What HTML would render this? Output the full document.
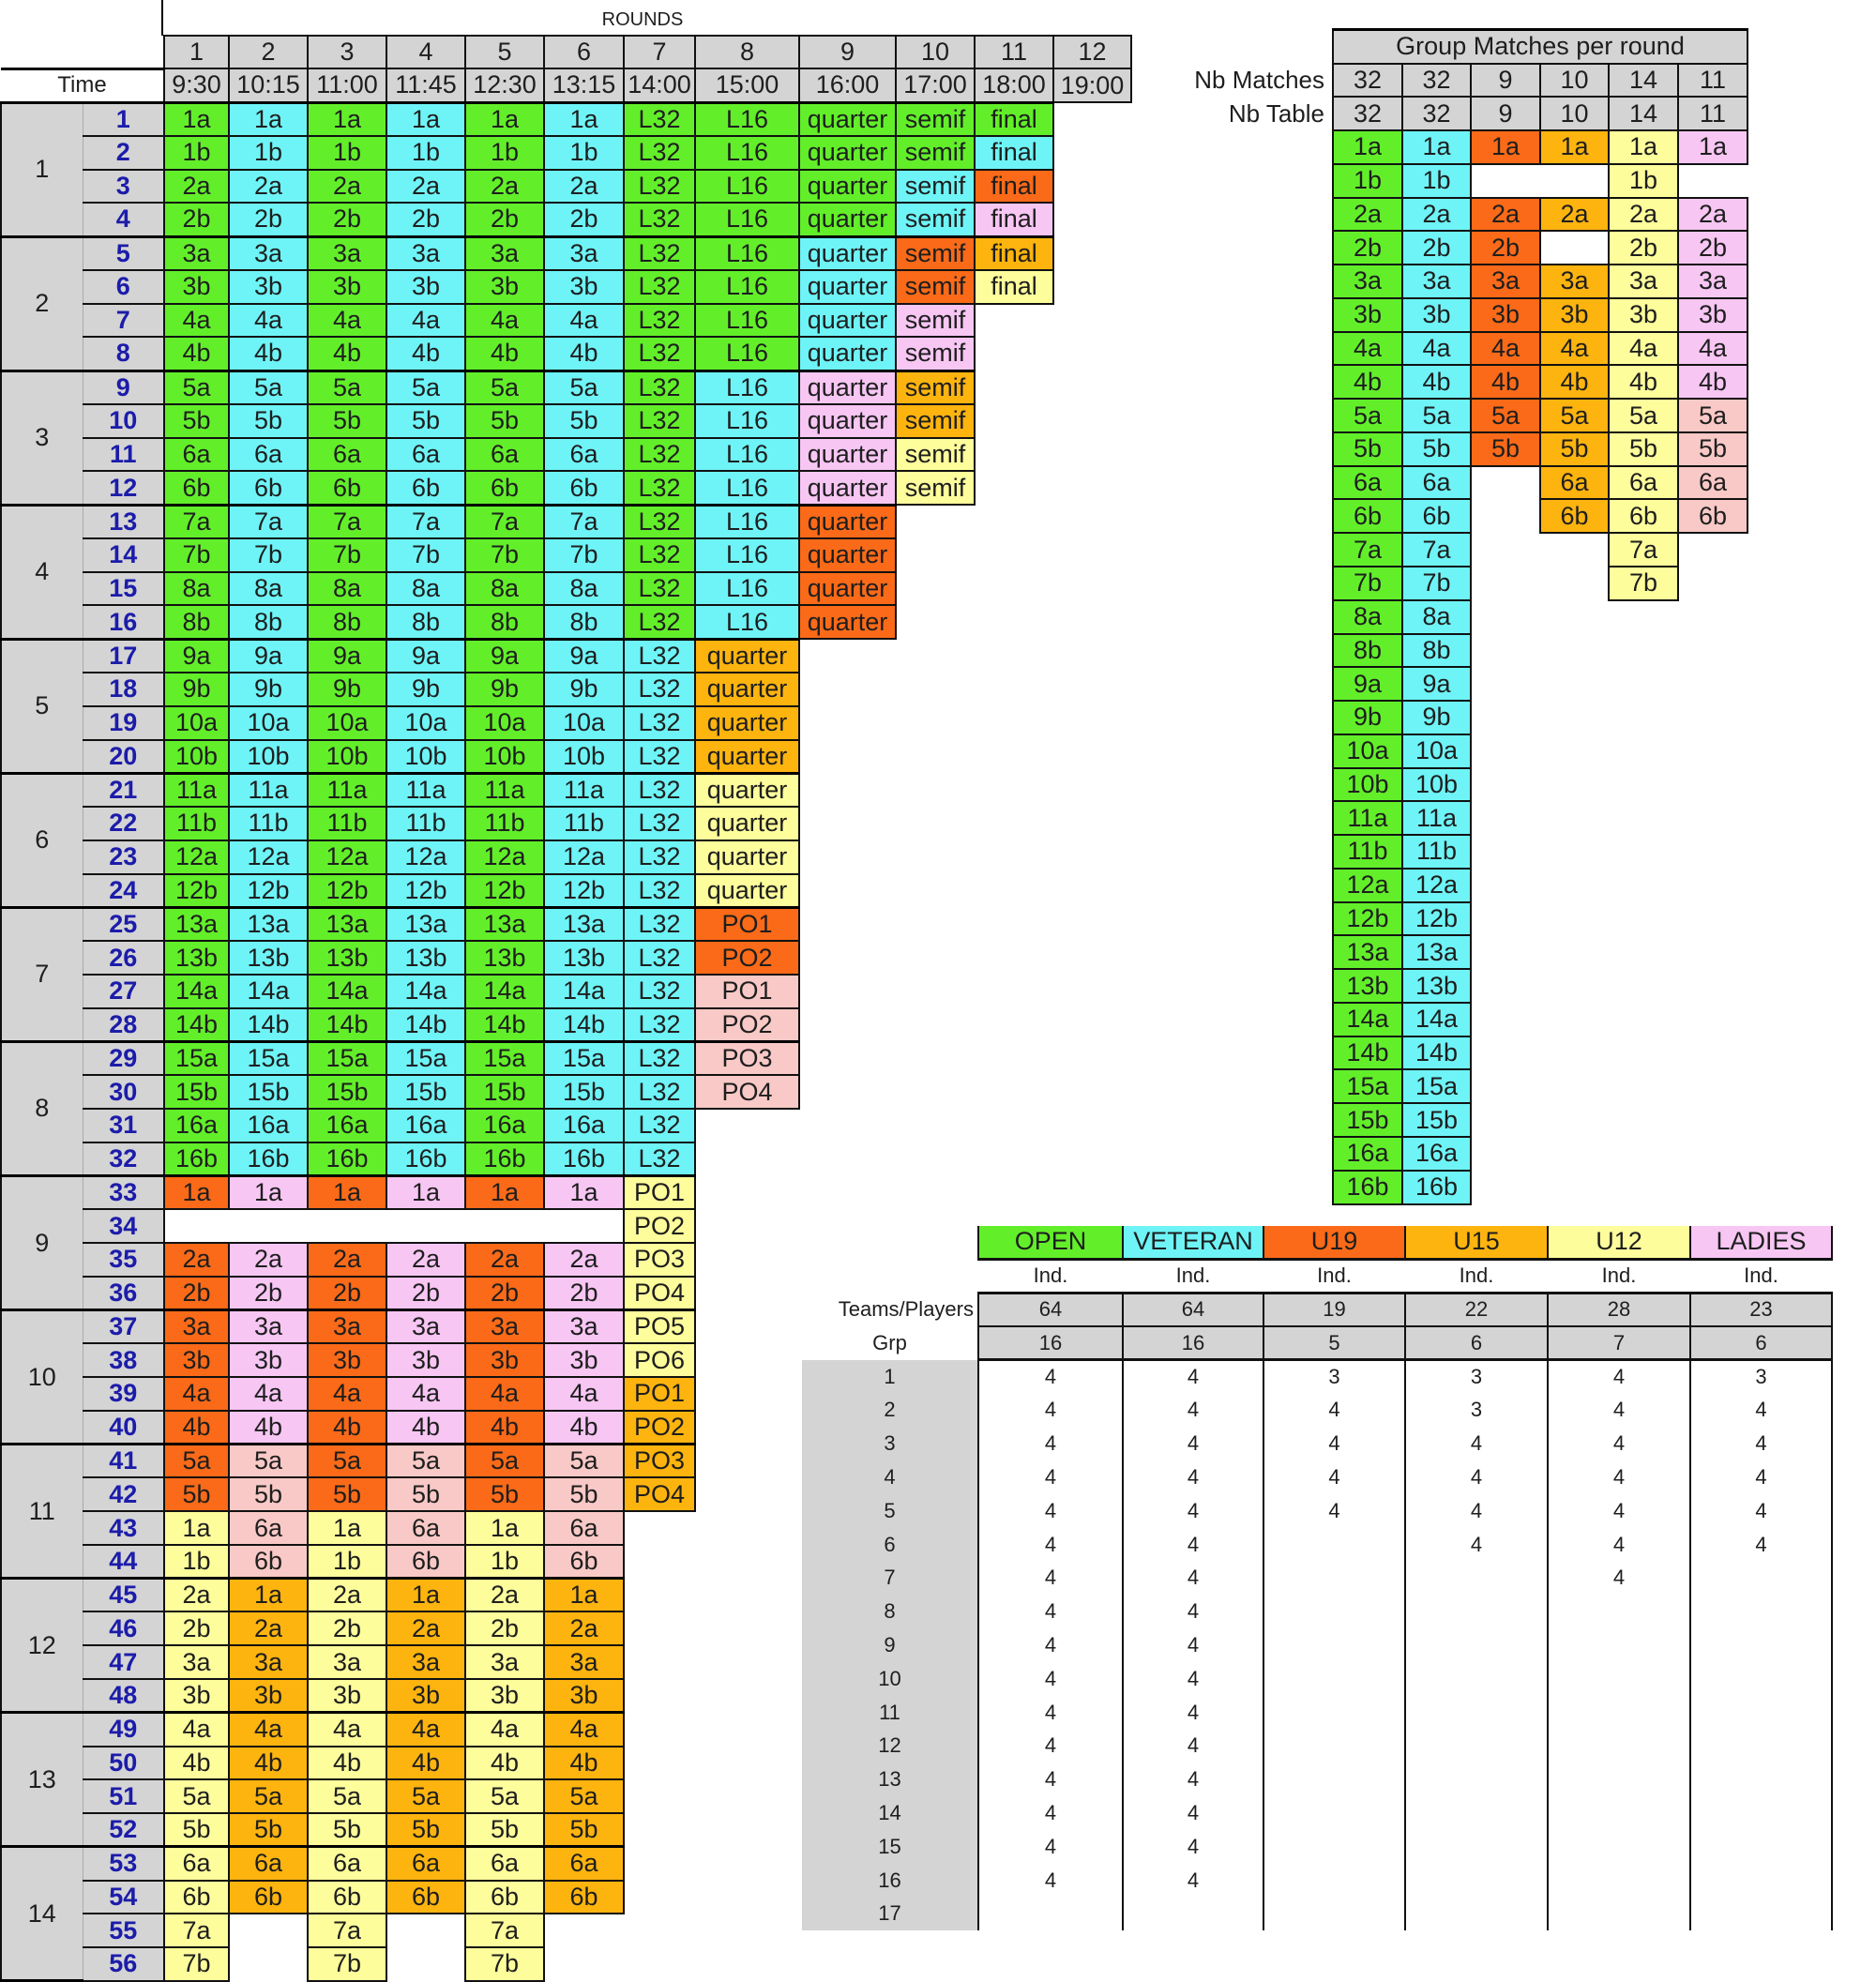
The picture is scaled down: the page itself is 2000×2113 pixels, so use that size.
<!DOCTYPE html>
<html><head><meta charset="utf-8"><style>
body{margin:0;width:2000px;height:2111px;background:#fff;position:relative;overflow:hidden;font-family:"Liberation Sans",Arial,sans-serif;color:#1e1e1e}
table{border-collapse:collapse;table-layout:fixed;position:absolute}
td{padding:0;text-align:center;vertical-align:middle;border:2px solid #111;font-size:27px;white-space:nowrap;overflow:hidden;line-height:1}
.g{background:#62ef2a}.c{background:#6ef4f7}.r{background:#fa6a18}.o{background:#fdb40f}.y{background:#fdfd9c}.p{background:#f7c6f3}.s{background:#f8c9c6}.h{background:#d4d4d4}
.L tr.d{height:35.78px}
.L tr.t td{border-top:3px solid #000}
td.n,.L tr.t td.n{border:none;background:#fff}
td.b{color:#1c1caa;font-weight:bold;background:#d4d4d4;border-left:1px solid #aaa}
td.gr{background:#d4d4d4;border-top:3px solid #000;border-bottom:3px solid #000;border-right:1px solid #aaa}
.R tr{height:35.78px}
.B td{font-size:22px}
.B tr{height:35.8px}
.B td.v{border:none;border-left:2px solid #111;border-right:2px solid #111}
.B td.lb{border:none;background:#d4d4d4}
</style></head><body>
<div style="position:absolute;left:172px;top:0;width:2px;height:38px;background:#000"></div>
<div style="position:absolute;left:600px;top:10px;width:170px;text-align:center;font-size:20px">ROUNDS</div>
<table class="L" style="left:0;top:37px;width:1205px">
<colgroup><col style="width:87px"><col style="width:87px"><col style="width:69px"><col style="width:84px"><col style="width:84px"><col style="width:84px"><col style="width:84px"><col style="width:85px"><col style="width:76px"><col style="width:111px"><col style="width:103px"><col style="width:84px"><col style="width:84px"><col style="width:83px"></colgroup>
<tr style="height:35px"><td class="n" colspan="2"></td><td class="h">1</td><td class="h">2</td><td class="h">3</td><td class="h">4</td><td class="h">5</td><td class="h">6</td><td class="h">7</td><td class="h">8</td><td class="h">9</td><td class="h">10</td><td class="h">11</td><td class="h">12</td></tr>
<tr style="height:36px"><td colspan="2" style="border-left:none;border-top:3px solid #000;border-bottom:3px solid #000;font-size:24px">Time</td><td class="h">9:30</td><td class="h">10:15</td><td class="h">11:00</td><td class="h">11:45</td><td class="h">12:30</td><td class="h">13:15</td><td class="h">14:00</td><td class="h">15:00</td><td class="h">16:00</td><td class="h">17:00</td><td class="h">18:00</td><td class="h">19:00</td></tr>
<tr class="d t"><td class="gr" rowspan="4">1</td><td class="b">1</td><td class="g">1a</td><td class="c">1a</td><td class="g">1a</td><td class="c">1a</td><td class="g">1a</td><td class="c">1a</td><td class="g">L32</td><td class="g">L16</td><td class="g">quarter</td><td class="g">semif</td><td class="g">final</td><td class="n"></td></tr>
<tr class="d"><td class="b">2</td><td class="g">1b</td><td class="c">1b</td><td class="g">1b</td><td class="c">1b</td><td class="g">1b</td><td class="c">1b</td><td class="g">L32</td><td class="g">L16</td><td class="g">quarter</td><td class="g">semif</td><td class="c">final</td><td class="n"></td></tr>
<tr class="d"><td class="b">3</td><td class="g">2a</td><td class="c">2a</td><td class="g">2a</td><td class="c">2a</td><td class="g">2a</td><td class="c">2a</td><td class="g">L32</td><td class="g">L16</td><td class="g">quarter</td><td class="c">semif</td><td class="r">final</td><td class="n"></td></tr>
<tr class="d"><td class="b">4</td><td class="g">2b</td><td class="c">2b</td><td class="g">2b</td><td class="c">2b</td><td class="g">2b</td><td class="c">2b</td><td class="g">L32</td><td class="g">L16</td><td class="g">quarter</td><td class="c">semif</td><td class="p">final</td><td class="n"></td></tr>
<tr class="d t"><td class="gr" rowspan="4">2</td><td class="b">5</td><td class="g">3a</td><td class="c">3a</td><td class="g">3a</td><td class="c">3a</td><td class="g">3a</td><td class="c">3a</td><td class="g">L32</td><td class="g">L16</td><td class="c">quarter</td><td class="r">semif</td><td class="o">final</td><td class="n"></td></tr>
<tr class="d"><td class="b">6</td><td class="g">3b</td><td class="c">3b</td><td class="g">3b</td><td class="c">3b</td><td class="g">3b</td><td class="c">3b</td><td class="g">L32</td><td class="g">L16</td><td class="c">quarter</td><td class="r">semif</td><td class="y">final</td><td class="n"></td></tr>
<tr class="d"><td class="b">7</td><td class="g">4a</td><td class="c">4a</td><td class="g">4a</td><td class="c">4a</td><td class="g">4a</td><td class="c">4a</td><td class="g">L32</td><td class="g">L16</td><td class="c">quarter</td><td class="p">semif</td><td class="n" colspan="2"></td></tr>
<tr class="d"><td class="b">8</td><td class="g">4b</td><td class="c">4b</td><td class="g">4b</td><td class="c">4b</td><td class="g">4b</td><td class="c">4b</td><td class="g">L32</td><td class="g">L16</td><td class="c">quarter</td><td class="p">semif</td><td class="n" colspan="2"></td></tr>
<tr class="d t"><td class="gr" rowspan="4">3</td><td class="b">9</td><td class="g">5a</td><td class="c">5a</td><td class="g">5a</td><td class="c">5a</td><td class="g">5a</td><td class="c">5a</td><td class="g">L32</td><td class="c">L16</td><td class="p">quarter</td><td class="o">semif</td><td class="n" colspan="2"></td></tr>
<tr class="d"><td class="b">10</td><td class="g">5b</td><td class="c">5b</td><td class="g">5b</td><td class="c">5b</td><td class="g">5b</td><td class="c">5b</td><td class="g">L32</td><td class="c">L16</td><td class="p">quarter</td><td class="o">semif</td><td class="n" colspan="2"></td></tr>
<tr class="d"><td class="b">11</td><td class="g">6a</td><td class="c">6a</td><td class="g">6a</td><td class="c">6a</td><td class="g">6a</td><td class="c">6a</td><td class="g">L32</td><td class="c">L16</td><td class="p">quarter</td><td class="y">semif</td><td class="n" colspan="2"></td></tr>
<tr class="d"><td class="b">12</td><td class="g">6b</td><td class="c">6b</td><td class="g">6b</td><td class="c">6b</td><td class="g">6b</td><td class="c">6b</td><td class="g">L32</td><td class="c">L16</td><td class="p">quarter</td><td class="y">semif</td><td class="n" colspan="2"></td></tr>
<tr class="d t"><td class="gr" rowspan="4">4</td><td class="b">13</td><td class="g">7a</td><td class="c">7a</td><td class="g">7a</td><td class="c">7a</td><td class="g">7a</td><td class="c">7a</td><td class="g">L32</td><td class="c">L16</td><td class="r">quarter</td><td class="n" colspan="3"></td></tr>
<tr class="d"><td class="b">14</td><td class="g">7b</td><td class="c">7b</td><td class="g">7b</td><td class="c">7b</td><td class="g">7b</td><td class="c">7b</td><td class="g">L32</td><td class="c">L16</td><td class="r">quarter</td><td class="n" colspan="3"></td></tr>
<tr class="d"><td class="b">15</td><td class="g">8a</td><td class="c">8a</td><td class="g">8a</td><td class="c">8a</td><td class="g">8a</td><td class="c">8a</td><td class="g">L32</td><td class="c">L16</td><td class="r">quarter</td><td class="n" colspan="3"></td></tr>
<tr class="d"><td class="b">16</td><td class="g">8b</td><td class="c">8b</td><td class="g">8b</td><td class="c">8b</td><td class="g">8b</td><td class="c">8b</td><td class="g">L32</td><td class="c">L16</td><td class="r">quarter</td><td class="n" colspan="3"></td></tr>
<tr class="d t"><td class="gr" rowspan="4">5</td><td class="b">17</td><td class="g">9a</td><td class="c">9a</td><td class="g">9a</td><td class="c">9a</td><td class="g">9a</td><td class="c">9a</td><td class="c">L32</td><td class="o">quarter</td><td class="n" colspan="4"></td></tr>
<tr class="d"><td class="b">18</td><td class="g">9b</td><td class="c">9b</td><td class="g">9b</td><td class="c">9b</td><td class="g">9b</td><td class="c">9b</td><td class="c">L32</td><td class="o">quarter</td><td class="n" colspan="4"></td></tr>
<tr class="d"><td class="b">19</td><td class="g">10a</td><td class="c">10a</td><td class="g">10a</td><td class="c">10a</td><td class="g">10a</td><td class="c">10a</td><td class="c">L32</td><td class="o">quarter</td><td class="n" colspan="4"></td></tr>
<tr class="d"><td class="b">20</td><td class="g">10b</td><td class="c">10b</td><td class="g">10b</td><td class="c">10b</td><td class="g">10b</td><td class="c">10b</td><td class="c">L32</td><td class="o">quarter</td><td class="n" colspan="4"></td></tr>
<tr class="d t"><td class="gr" rowspan="4">6</td><td class="b">21</td><td class="g">11a</td><td class="c">11a</td><td class="g">11a</td><td class="c">11a</td><td class="g">11a</td><td class="c">11a</td><td class="c">L32</td><td class="y">quarter</td><td class="n" colspan="4"></td></tr>
<tr class="d"><td class="b">22</td><td class="g">11b</td><td class="c">11b</td><td class="g">11b</td><td class="c">11b</td><td class="g">11b</td><td class="c">11b</td><td class="c">L32</td><td class="y">quarter</td><td class="n" colspan="4"></td></tr>
<tr class="d"><td class="b">23</td><td class="g">12a</td><td class="c">12a</td><td class="g">12a</td><td class="c">12a</td><td class="g">12a</td><td class="c">12a</td><td class="c">L32</td><td class="y">quarter</td><td class="n" colspan="4"></td></tr>
<tr class="d"><td class="b">24</td><td class="g">12b</td><td class="c">12b</td><td class="g">12b</td><td class="c">12b</td><td class="g">12b</td><td class="c">12b</td><td class="c">L32</td><td class="y">quarter</td><td class="n" colspan="4"></td></tr>
<tr class="d t"><td class="gr" rowspan="4">7</td><td class="b">25</td><td class="g">13a</td><td class="c">13a</td><td class="g">13a</td><td class="c">13a</td><td class="g">13a</td><td class="c">13a</td><td class="c">L32</td><td class="r">PO1</td><td class="n" colspan="4"></td></tr>
<tr class="d"><td class="b">26</td><td class="g">13b</td><td class="c">13b</td><td class="g">13b</td><td class="c">13b</td><td class="g">13b</td><td class="c">13b</td><td class="c">L32</td><td class="r">PO2</td><td class="n" colspan="4"></td></tr>
<tr class="d"><td class="b">27</td><td class="g">14a</td><td class="c">14a</td><td class="g">14a</td><td class="c">14a</td><td class="g">14a</td><td class="c">14a</td><td class="c">L32</td><td class="s">PO1</td><td class="n" colspan="4"></td></tr>
<tr class="d"><td class="b">28</td><td class="g">14b</td><td class="c">14b</td><td class="g">14b</td><td class="c">14b</td><td class="g">14b</td><td class="c">14b</td><td class="c">L32</td><td class="s">PO2</td><td class="n" colspan="4"></td></tr>
<tr class="d t"><td class="gr" rowspan="4">8</td><td class="b">29</td><td class="g">15a</td><td class="c">15a</td><td class="g">15a</td><td class="c">15a</td><td class="g">15a</td><td class="c">15a</td><td class="c">L32</td><td class="s">PO3</td><td class="n" colspan="4"></td></tr>
<tr class="d"><td class="b">30</td><td class="g">15b</td><td class="c">15b</td><td class="g">15b</td><td class="c">15b</td><td class="g">15b</td><td class="c">15b</td><td class="c">L32</td><td class="s">PO4</td><td class="n" colspan="4"></td></tr>
<tr class="d"><td class="b">31</td><td class="g">16a</td><td class="c">16a</td><td class="g">16a</td><td class="c">16a</td><td class="g">16a</td><td class="c">16a</td><td class="c">L32</td><td class="n" colspan="5"></td></tr>
<tr class="d"><td class="b">32</td><td class="g">16b</td><td class="c">16b</td><td class="g">16b</td><td class="c">16b</td><td class="g">16b</td><td class="c">16b</td><td class="c">L32</td><td class="n" colspan="5"></td></tr>
<tr class="d t"><td class="gr" rowspan="4">9</td><td class="b">33</td><td class="r">1a</td><td class="p">1a</td><td class="r">1a</td><td class="p">1a</td><td class="r">1a</td><td class="p">1a</td><td class="y">PO1</td><td class="n" colspan="5"></td></tr>
<tr class="d"><td class="b">34</td><td class="n" colspan="6"></td><td class="y">PO2</td><td class="n" colspan="5"></td></tr>
<tr class="d"><td class="b">35</td><td class="r">2a</td><td class="p">2a</td><td class="r">2a</td><td class="p">2a</td><td class="r">2a</td><td class="p">2a</td><td class="y">PO3</td><td class="n" colspan="5"></td></tr>
<tr class="d"><td class="b">36</td><td class="r">2b</td><td class="p">2b</td><td class="r">2b</td><td class="p">2b</td><td class="r">2b</td><td class="p">2b</td><td class="y">PO4</td><td class="n" colspan="5"></td></tr>
<tr class="d t"><td class="gr" rowspan="4">10</td><td class="b">37</td><td class="r">3a</td><td class="p">3a</td><td class="r">3a</td><td class="p">3a</td><td class="r">3a</td><td class="p">3a</td><td class="y">PO5</td><td class="n" colspan="5"></td></tr>
<tr class="d"><td class="b">38</td><td class="r">3b</td><td class="p">3b</td><td class="r">3b</td><td class="p">3b</td><td class="r">3b</td><td class="p">3b</td><td class="y">PO6</td><td class="n" colspan="5"></td></tr>
<tr class="d"><td class="b">39</td><td class="r">4a</td><td class="p">4a</td><td class="r">4a</td><td class="p">4a</td><td class="r">4a</td><td class="p">4a</td><td class="o">PO1</td><td class="n" colspan="5"></td></tr>
<tr class="d"><td class="b">40</td><td class="r">4b</td><td class="p">4b</td><td class="r">4b</td><td class="p">4b</td><td class="r">4b</td><td class="p">4b</td><td class="o">PO2</td><td class="n" colspan="5"></td></tr>
<tr class="d t"><td class="gr" rowspan="4">11</td><td class="b">41</td><td class="r">5a</td><td class="s">5a</td><td class="r">5a</td><td class="s">5a</td><td class="r">5a</td><td class="s">5a</td><td class="o">PO3</td><td class="n" colspan="5"></td></tr>
<tr class="d"><td class="b">42</td><td class="r">5b</td><td class="s">5b</td><td class="r">5b</td><td class="s">5b</td><td class="r">5b</td><td class="s">5b</td><td class="o">PO4</td><td class="n" colspan="5"></td></tr>
<tr class="d"><td class="b">43</td><td class="y">1a</td><td class="s">6a</td><td class="y">1a</td><td class="s">6a</td><td class="y">1a</td><td class="s">6a</td><td class="n" colspan="6"></td></tr>
<tr class="d"><td class="b">44</td><td class="y">1b</td><td class="s">6b</td><td class="y">1b</td><td class="s">6b</td><td class="y">1b</td><td class="s">6b</td><td class="n" colspan="6"></td></tr>
<tr class="d t"><td class="gr" rowspan="4">12</td><td class="b">45</td><td class="y">2a</td><td class="o">1a</td><td class="y">2a</td><td class="o">1a</td><td class="y">2a</td><td class="o">1a</td><td class="n" colspan="6"></td></tr>
<tr class="d"><td class="b">46</td><td class="y">2b</td><td class="o">2a</td><td class="y">2b</td><td class="o">2a</td><td class="y">2b</td><td class="o">2a</td><td class="n" colspan="6"></td></tr>
<tr class="d"><td class="b">47</td><td class="y">3a</td><td class="o">3a</td><td class="y">3a</td><td class="o">3a</td><td class="y">3a</td><td class="o">3a</td><td class="n" colspan="6"></td></tr>
<tr class="d"><td class="b">48</td><td class="y">3b</td><td class="o">3b</td><td class="y">3b</td><td class="o">3b</td><td class="y">3b</td><td class="o">3b</td><td class="n" colspan="6"></td></tr>
<tr class="d t"><td class="gr" rowspan="4">13</td><td class="b">49</td><td class="y">4a</td><td class="o">4a</td><td class="y">4a</td><td class="o">4a</td><td class="y">4a</td><td class="o">4a</td><td class="n" colspan="6"></td></tr>
<tr class="d"><td class="b">50</td><td class="y">4b</td><td class="o">4b</td><td class="y">4b</td><td class="o">4b</td><td class="y">4b</td><td class="o">4b</td><td class="n" colspan="6"></td></tr>
<tr class="d"><td class="b">51</td><td class="y">5a</td><td class="o">5a</td><td class="y">5a</td><td class="o">5a</td><td class="y">5a</td><td class="o">5a</td><td class="n" colspan="6"></td></tr>
<tr class="d"><td class="b">52</td><td class="y">5b</td><td class="o">5b</td><td class="y">5b</td><td class="o">5b</td><td class="y">5b</td><td class="o">5b</td><td class="n" colspan="6"></td></tr>
<tr class="d t"><td class="gr" rowspan="4">14</td><td class="b">53</td><td class="y">6a</td><td class="o">6a</td><td class="y">6a</td><td class="o">6a</td><td class="y">6a</td><td class="o">6a</td><td class="n" colspan="6"></td></tr>
<tr class="d"><td class="b">54</td><td class="y">6b</td><td class="o">6b</td><td class="y">6b</td><td class="o">6b</td><td class="y">6b</td><td class="o">6b</td><td class="n" colspan="6"></td></tr>
<tr class="d"><td class="b">55</td><td class="y">7a</td><td class="n"></td><td class="y">7a</td><td class="n"></td><td class="y">7a</td><td class="n" colspan="7"></td></tr>
<tr class="d"><td class="b">56</td><td class="y">7b</td><td class="n"></td><td class="y">7b</td><td class="n"></td><td class="y">7b</td><td class="n" colspan="7"></td></tr>
</table>

<div style="position:absolute;left:1200px;top:70px;width:212px;text-align:right;font-size:26px">Nb Matches</div>
<div style="position:absolute;left:1200px;top:106px;width:212px;text-align:right;font-size:26px">Nb Table</div>
<table class="R" style="left:1420px;top:30px;width:442px">
<colgroup><col style="width:74px"><col style="width:73px"><col style="width:74px"><col style="width:73px"><col style="width:74px"><col style="width:74px"></colgroup>
<tr style="height:36px"><td class="h" colspan="6" style="border-top:3px solid #000">Group Matches per round</td></tr>
<tr><td class="h">32</td><td class="h">32</td><td class="h">9</td><td class="h">10</td><td class="h">14</td><td class="h">11</td></tr>
<tr><td class="h">32</td><td class="h">32</td><td class="h">9</td><td class="h">10</td><td class="h">14</td><td class="h">11</td></tr>
<tr><td class="g">1a</td><td class="c">1a</td><td class="r">1a</td><td class="o">1a</td><td class="y">1a</td><td class="p">1a</td></tr>
<tr><td class="g">1b</td><td class="c">1b</td><td class="n"></td><td class="n"></td><td class="y">1b</td><td class="n"></td></tr>
<tr><td class="g">2a</td><td class="c">2a</td><td class="r">2a</td><td class="o">2a</td><td class="y">2a</td><td class="p">2a</td></tr>
<tr><td class="g">2b</td><td class="c">2b</td><td class="r">2b</td><td class="n"></td><td class="y">2b</td><td class="p">2b</td></tr>
<tr><td class="g">3a</td><td class="c">3a</td><td class="r">3a</td><td class="o">3a</td><td class="y">3a</td><td class="p">3a</td></tr>
<tr><td class="g">3b</td><td class="c">3b</td><td class="r">3b</td><td class="o">3b</td><td class="y">3b</td><td class="p">3b</td></tr>
<tr><td class="g">4a</td><td class="c">4a</td><td class="r">4a</td><td class="o">4a</td><td class="y">4a</td><td class="p">4a</td></tr>
<tr><td class="g">4b</td><td class="c">4b</td><td class="r">4b</td><td class="o">4b</td><td class="y">4b</td><td class="p">4b</td></tr>
<tr><td class="g">5a</td><td class="c">5a</td><td class="r">5a</td><td class="o">5a</td><td class="y">5a</td><td class="s">5a</td></tr>
<tr><td class="g">5b</td><td class="c">5b</td><td class="r">5b</td><td class="o">5b</td><td class="y">5b</td><td class="s">5b</td></tr>
<tr><td class="g">6a</td><td class="c">6a</td><td class="n"></td><td class="o">6a</td><td class="y">6a</td><td class="s">6a</td></tr>
<tr><td class="g">6b</td><td class="c">6b</td><td class="n"></td><td class="o">6b</td><td class="y">6b</td><td class="s">6b</td></tr>
<tr><td class="g">7a</td><td class="c">7a</td><td class="n"></td><td class="n"></td><td class="y">7a</td><td class="n"></td></tr>
<tr><td class="g">7b</td><td class="c">7b</td><td class="n"></td><td class="n"></td><td class="y">7b</td><td class="n"></td></tr>
<tr><td class="g">8a</td><td class="c">8a</td><td class="n" colspan="4"></td></tr>
<tr><td class="g">8b</td><td class="c">8b</td><td class="n" colspan="4"></td></tr>
<tr><td class="g">9a</td><td class="c">9a</td><td class="n" colspan="4"></td></tr>
<tr><td class="g">9b</td><td class="c">9b</td><td class="n" colspan="4"></td></tr>
<tr><td class="g">10a</td><td class="c">10a</td><td class="n" colspan="4"></td></tr>
<tr><td class="g">10b</td><td class="c">10b</td><td class="n" colspan="4"></td></tr>
<tr><td class="g">11a</td><td class="c">11a</td><td class="n" colspan="4"></td></tr>
<tr><td class="g">11b</td><td class="c">11b</td><td class="n" colspan="4"></td></tr>
<tr><td class="g">12a</td><td class="c">12a</td><td class="n" colspan="4"></td></tr>
<tr><td class="g">12b</td><td class="c">12b</td><td class="n" colspan="4"></td></tr>
<tr><td class="g">13a</td><td class="c">13a</td><td class="n" colspan="4"></td></tr>
<tr><td class="g">13b</td><td class="c">13b</td><td class="n" colspan="4"></td></tr>
<tr><td class="g">14a</td><td class="c">14a</td><td class="n" colspan="4"></td></tr>
<tr><td class="g">14b</td><td class="c">14b</td><td class="n" colspan="4"></td></tr>
<tr><td class="g">15a</td><td class="c">15a</td><td class="n" colspan="4"></td></tr>
<tr><td class="g">15b</td><td class="c">15b</td><td class="n" colspan="4"></td></tr>
<tr><td class="g">16a</td><td class="c">16a</td><td class="n" colspan="4"></td></tr>
<tr><td class="g">16b</td><td class="c">16b</td><td class="n" colspan="4"></td></tr>
</table>

<table class="B" style="left:855px;top:1307px;width:1098px">
<colgroup><col style="width:188px"><col style="width:154px"><col style="width:150px"><col style="width:151px"><col style="width:152px"><col style="width:152px"><col style="width:151px"></colgroup>
<tr style="height:35px"><td class="n"></td><td class="g" style="font-size:27px;border-top:none;border-bottom:3px solid #111">OPEN</td><td class="c" style="font-size:27px;border-top:none;border-bottom:3px solid #111">VETERAN</td><td class="r" style="font-size:27px;border-top:none;border-bottom:3px solid #111">U19</td><td class="o" style="font-size:27px;border-top:none;border-bottom:3px solid #111">U15</td><td class="y" style="font-size:27px;border-top:none;border-bottom:3px solid #111">U12</td><td class="p" style="font-size:27px;border-top:none;border-bottom:3px solid #111">LADIES</td></tr>
<tr style="height:36px"><td class="n"></td><td class="n">Ind.</td><td class="n">Ind.</td><td class="n">Ind.</td><td class="n">Ind.</td><td class="n">Ind.</td><td class="n">Ind.</td></tr>
<tr><td class="n" style="text-align:right;padding-right:4px">Teams/Players</td><td class="h" style="border-top:3px solid #111">64</td><td class="h" style="border-top:3px solid #111">64</td><td class="h" style="border-top:3px solid #111">19</td><td class="h" style="border-top:3px solid #111">22</td><td class="h" style="border-top:3px solid #111">28</td><td class="h" style="border-top:3px solid #111">23</td></tr>
<tr style="height:36px"><td class="n">Grp</td><td class="h" style="border-bottom:3px solid #111">16</td><td class="h" style="border-bottom:3px solid #111">16</td><td class="h" style="border-bottom:3px solid #111">5</td><td class="h" style="border-bottom:3px solid #111">6</td><td class="h" style="border-bottom:3px solid #111">7</td><td class="h" style="border-bottom:3px solid #111">6</td></tr>
<tr><td class="lb">1</td><td class="v">4</td><td class="v">4</td><td class="v">3</td><td class="v">3</td><td class="v">4</td><td class="v">3</td></tr>
<tr><td class="lb">2</td><td class="v">4</td><td class="v">4</td><td class="v">4</td><td class="v">3</td><td class="v">4</td><td class="v">4</td></tr>
<tr><td class="lb">3</td><td class="v">4</td><td class="v">4</td><td class="v">4</td><td class="v">4</td><td class="v">4</td><td class="v">4</td></tr>
<tr><td class="lb">4</td><td class="v">4</td><td class="v">4</td><td class="v">4</td><td class="v">4</td><td class="v">4</td><td class="v">4</td></tr>
<tr><td class="lb">5</td><td class="v">4</td><td class="v">4</td><td class="v">4</td><td class="v">4</td><td class="v">4</td><td class="v">4</td></tr>
<tr><td class="lb">6</td><td class="v">4</td><td class="v">4</td><td class="v"></td><td class="v">4</td><td class="v">4</td><td class="v">4</td></tr>
<tr><td class="lb">7</td><td class="v">4</td><td class="v">4</td><td class="v"></td><td class="v"></td><td class="v">4</td><td class="v"></td></tr>
<tr><td class="lb">8</td><td class="v">4</td><td class="v">4</td><td class="v"></td><td class="v"></td><td class="v"></td><td class="v"></td></tr>
<tr><td class="lb">9</td><td class="v">4</td><td class="v">4</td><td class="v"></td><td class="v"></td><td class="v"></td><td class="v"></td></tr>
<tr><td class="lb">10</td><td class="v">4</td><td class="v">4</td><td class="v"></td><td class="v"></td><td class="v"></td><td class="v"></td></tr>
<tr><td class="lb">11</td><td class="v">4</td><td class="v">4</td><td class="v"></td><td class="v"></td><td class="v"></td><td class="v"></td></tr>
<tr><td class="lb">12</td><td class="v">4</td><td class="v">4</td><td class="v"></td><td class="v"></td><td class="v"></td><td class="v"></td></tr>
<tr><td class="lb">13</td><td class="v">4</td><td class="v">4</td><td class="v"></td><td class="v"></td><td class="v"></td><td class="v"></td></tr>
<tr><td class="lb">14</td><td class="v">4</td><td class="v">4</td><td class="v"></td><td class="v"></td><td class="v"></td><td class="v"></td></tr>
<tr><td class="lb">15</td><td class="v">4</td><td class="v">4</td><td class="v"></td><td class="v"></td><td class="v"></td><td class="v"></td></tr>
<tr><td class="lb">16</td><td class="v">4</td><td class="v">4</td><td class="v"></td><td class="v"></td><td class="v"></td><td class="v"></td></tr>
<tr><td class="lb">17</td><td class="v"></td><td class="v"></td><td class="v"></td><td class="v"></td><td class="v"></td><td class="v"></td></tr>
</table>
</body></html>
